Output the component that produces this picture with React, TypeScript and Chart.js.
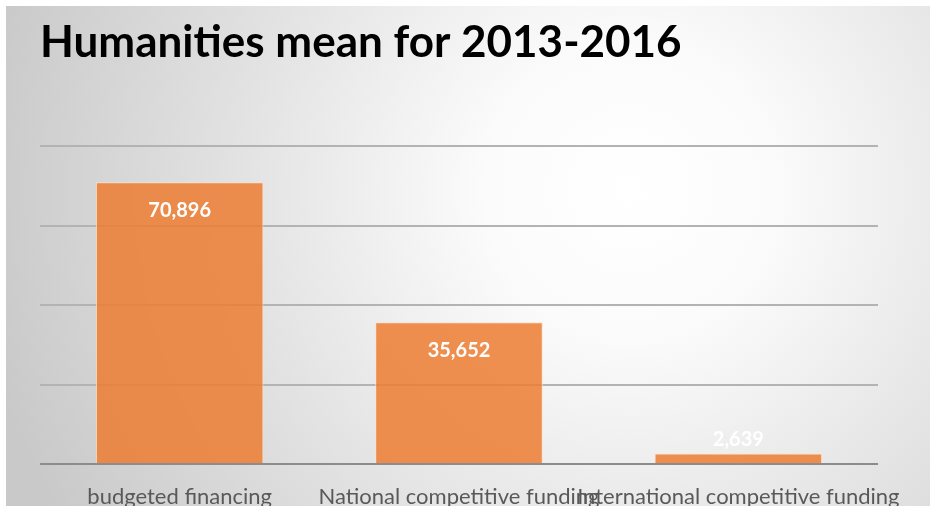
import React, { useEffect, useRef } from "react";
import { Chart, registerables } from "chart.js";

Chart.register(...registerables);

const TITLE = "Humanities mean for 2013-2016";
const categories = ["budgeted financing", "National competitive funding", "International competitive funding"];
const values = [70896, 35652, 2639];
const yMax = 80000;
const yStep = 20000;

const FONT = "Lato, 'Open Sans', sans-serif";

const backgroundPlugin = {
  id: "bgPlugin",
  beforeDraw(chart: any) {
    const { ctx, width, height } = chart;
    ctx.save();
    ctx.fillStyle = "#ffffff";
    ctx.fillRect(0, 0, width, height);
    const g = ctx.createRadialGradient(630, 190, 0, 630, 190, 660);
    g.addColorStop(0, "#ffffff");
    g.addColorStop(0.22, "#fbfbfb");
    g.addColorStop(0.6, "#e2e2e2");
    g.addColorStop(1, "#c9c9c9");
    ctx.fillStyle = g;
    ctx.fillRect(6, 6, width - 6, height - 6);
    ctx.restore();
  },
};

const labelPlugin = {
  id: "valueLabels",
  afterDatasetsDraw(chart: any) {
    const { ctx } = chart;
    const meta = chart.getDatasetMeta(0);
    ctx.save();
    ctx.font = `bold 20px ${FONT}`;
    ctx.fillStyle = "#ffffff";
    ctx.textAlign = "center";
    ctx.textBaseline = "middle";
    meta.data.forEach((bar: any, i: number) => {
      const v = values[i];
      const y = Math.min(bar.y + 28, bar.base - 23);
      ctx.fillText(v.toLocaleString("en-US"), bar.x, y);
    });
    ctx.restore();
  },
};

export default function App() {
  const ref = useRef<HTMLCanvasElement | null>(null);
  useEffect(() => {
    document.body.style.margin = "0";
    const canvas = ref.current!;
    const chart = new Chart(canvas, {
      type: "bar",
      data: {
        labels: categories,
        datasets: [
          {
            data: values,
            backgroundColor: "rgba(237,125,49,0.85)",
            borderColor: "rgba(255,225,200,0.9)",
            borderWidth: 1,
            barPercentage: 0.6,
            categoryPercentage: 1,
          },
        ],
      },
      options: {
        animation: false,
        responsive: false,
        maintainAspectRatio: false,
        layout: { padding: { left: 40, right: 52, top: 6, bottom: 0 } },
        plugins: {
          legend: { display: false },
          tooltip: { enabled: false },
          title: {
            display: true,
            text: TITLE,
            align: "start",
            color: "#000000",
            font: { family: FONT, size: 44, weight: "bold", lineHeight: 1.2 },
            padding: { top: 10, bottom: 77.2 },
          },
        },
        scales: {
          x: {
            grid: { display: false },
            border: { display: false },
            ticks: {
              color: "#595959",
              font: { family: FONT, size: 22 },
              padding: 12,
              maxRotation: 0,
              minRotation: 0,
              autoSkip: false,
            },
            afterFit(scale: any) {
              scale.height = 42;
            },
          },
          y: {
            min: 0,
            max: yMax,
            ticks: { display: false, stepSize: yStep },
            border: { display: false },
            grid: {
              color: (c: any) => (c.tick && c.tick.value === 0 ? "#8c8c8c" : "#b3b3b3"),
              lineWidth: 2,
              drawTicks: false,
            },
            afterFit(scale: any) {
              scale.width = 0;
            },
          },
        },
      },
      plugins: [backgroundPlugin, labelPlugin],
    });
    return () => chart.destroy();
  }, []);
  return <canvas ref={ref} width={930} height={506} style={{ display: "block" }} />;
}
